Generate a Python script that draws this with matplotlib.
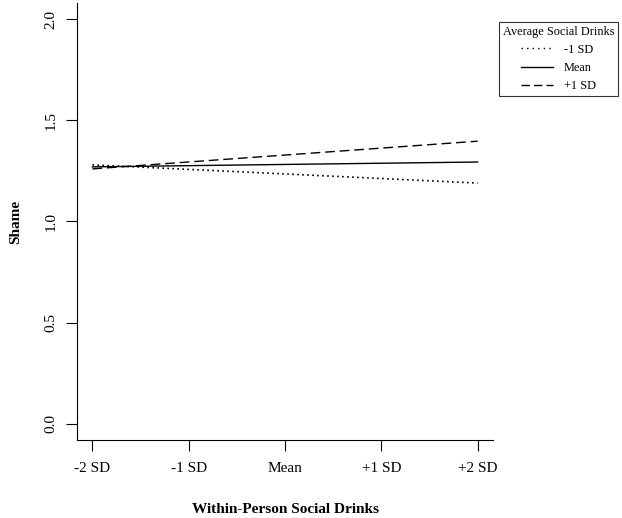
import matplotlib
matplotlib.use('Agg')
import matplotlib.pyplot as plt
from matplotlib.lines import Line2D

### Data
x_pos = [-2, -1, 0, 1, 2]
x_labels = ['-2 SD', '-1 SD', 'Mean', '+1 SD', '+2 SD']
y_ticks = [0.0, 0.5, 1.0, 1.5, 2.0]

# simple slopes at -2 SD and +2 SD of within-person drinks
low_sd = [1.28, 1.19]
mean_sd = [1.27, 1.294]
high_sd = [1.26, 1.397]
ends = [-2, 2]

### Charting
plt.rcParams['font.family'] = ['Liberation Serif', 'DejaVu Serif']

fig = plt.figure(figsize=(6.22, 5.18), dpi=100)
ax = fig.add_axes([0.1238, 0.1506, 0.6688, 0.8436])

ax.plot(ends, low_sd, color='black', lw=1.2, linestyle=(0, (1, 2)))
ax.plot(ends, mean_sd, color='black', lw=1.0, linestyle='-')
ax.plot(ends, high_sd, color='black', lw=1.0, linestyle=(0, (7, 3.5)))

ax.set_xlim(-2.16, 2.16)
ax.set_ylim(-0.08, 2.08)
ax.set_xticks(x_pos)
ax.set_xticklabels(x_labels, fontsize=11)
ax.set_yticks(y_ticks)
ax.set_yticklabels(['%.1f' % v for v in y_ticks], fontsize=11, rotation=90, va='center')
ax.tick_params(axis='both', direction='out', length=8, width=0.8, pad=8)
ax.tick_params(axis='y', pad=6)

for side in ['top', 'right']:
    ax.spines[side].set_visible(False)
for side in ['left', 'bottom']:
    ax.spines[side].set_linewidth(0.8)

ax.set_xlabel('Within-Person Social Drinks', fontsize=11, fontweight='bold', labelpad=20)
ax.set_ylabel('Shame', fontsize=11, fontweight='bold', labelpad=16)

handles = [Line2D([], [], color='black', lw=1.0, linestyle=(0, (1, 3))),
           Line2D([], [], color='black', lw=1.0, linestyle='-'),
           Line2D([], [], color='black', lw=1.0, linestyle=(0, (6, 3)))]
leg = fig.legend(handles, ['-1 SD', 'Mean', '+1 SD'], title='Average Social Drinks',
                 loc='upper left', bbox_to_anchor=(499 / 622, 1 - 22 / 518),
                 fontsize=8.8, title_fontsize=8.8, frameon=True, fancybox=False,
                 handlelength=2.6, handletextpad=0.9, labelspacing=0.5,
                 borderpad=0.3, borderaxespad=0, edgecolor='black',
                 alignment='center')
leg.get_frame().set_linewidth(0.8)

fig.savefig('out.png', dpi=100)
